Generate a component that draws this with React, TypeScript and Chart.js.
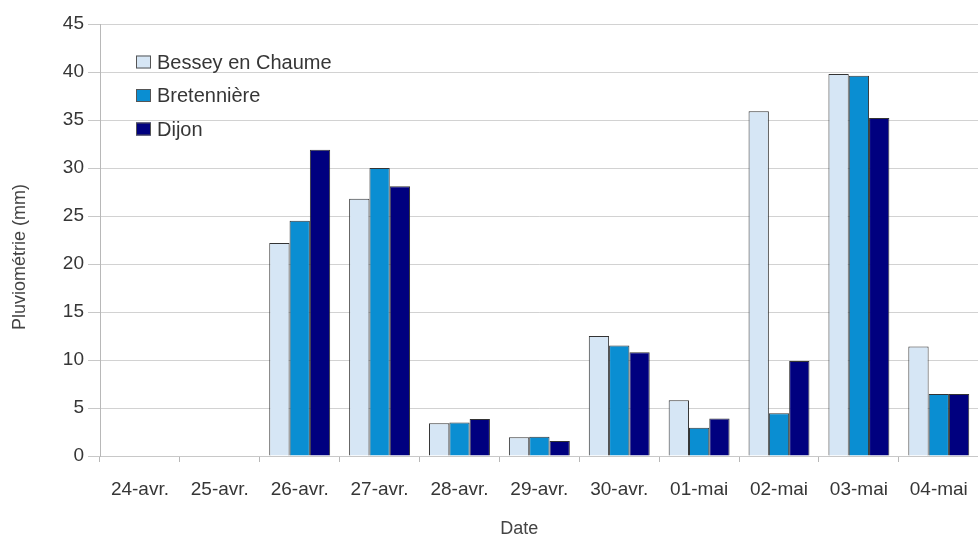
import React, { useEffect, useRef } from "react";
import { Chart, registerables } from "chart.js";

Chart.register(...registerables);

// Daily rainfall, 24 April – 4 May
const dates = ["24-avr.", "25-avr.", "26-avr.", "27-avr.", "28-avr.", "29-avr.", "30-avr.", "01-mai", "02-mai", "03-mai", "04-mai"];
const besseyEnChaume = [null, null, 22.2, 26.8, 3.4, 1.95, 12.5, 5.8, 35.9, 39.8, 11.4];
const bretenniere = [null, null, 24.5, 30.0, 3.5, 2.0, 11.5, 2.95, 4.45, 39.6, 6.45];
const dijon = [null, null, 31.9, 28.1, 3.85, 1.55, 10.8, 3.9, 9.9, 35.2, 6.45];
const yTicks = [0, 5, 10, 15, 20, 25, 30, 35, 40, 45];

const seriesNames = ["Bessey en Chaume", "Bretennière", "Dijon"];
const seriesColors = ["#d6e6f5", "#0a8ed2", "#00007f"];

const FONT = "'Liberation Sans', Arial, sans-serif";
const TEXT = "#363636";

// Legend drawn inside the plot area, top-left
const innerLegend = {
  id: "innerLegend",
  afterDraw(chart: any) {
    const { ctx, chartArea } = chart;
    ctx.save();
    ctx.font = `20px ${FONT}`;
    ctx.textBaseline = "middle";
    ctx.textAlign = "left";
    chart.data.datasets.forEach((ds: any, i: number) => {
      const x = chartArea.left + 36;
      const y = chartArea.top + 38 + i * 33.5;
      ctx.fillStyle = ds.backgroundColor;
      ctx.fillRect(x, y - 6.5, 15, 13);
      ctx.strokeStyle = "#555";
      ctx.lineWidth = 1;
      ctx.strokeRect(x + 0.5, y - 6, 14, 12);
      ctx.fillStyle = TEXT;
      ctx.fillText(ds.label, x + 21, y + 1);
    });
    ctx.restore();
  },
};

// Axis titles
const axisTitles = {
  id: "axisTitles",
  afterDraw(chart: any) {
    const { ctx, chartArea } = chart;
    ctx.save();
    ctx.fillStyle = "#444";
    ctx.font = `18px ${FONT}`;
    ctx.textAlign = "center";
    ctx.textBaseline = "middle";
    ctx.fillText("Date", chartArea.left + (chartArea.right - chartArea.left) * 0.477, chart.height - 10);
    ctx.translate(20, (chartArea.top + chartArea.bottom) / 2 + 17);
    ctx.rotate(-Math.PI / 2);
    ctx.fillText("Pluviométrie (mm)", 0, 0);
    ctx.restore();
  },
};

export default function App() {
  const ref = useRef<HTMLCanvasElement>(null);

  useEffect(() => {
    document.body.style.margin = "0";
    const canvas = ref.current;
    if (!canvas) return;
    const data = [besseyEnChaume, bretenniere, dijon];
    const chart = new Chart(canvas, {
      type: "bar",
      data: {
        labels: dates,
        datasets: data.map((values, i) => ({
          label: seriesNames[i],
          data: values as any,
          backgroundColor: seriesColors[i],
          borderColor: "#333",
          borderWidth: 1,
          categoryPercentage: 0.7625,
          barPercentage: 1,
        })),
      },
      options: {
        animation: false,
        responsive: false,
        devicePixelRatio: 1,
        layout: { padding: { top: 24, right: 4, left: 0, bottom: 0 } },
        plugins: {
          legend: { display: false },
          tooltip: { enabled: false },
        },
        scales: {
          x: {
            grid: {
              offset: true,
              drawOnChartArea: false,
              drawTicks: true,
              tickLength: 6,
              color: "#b8b8b8",
            },
            border: { display: true, color: "#c8c8c8" },
            ticks: {
              color: TEXT,
              font: { family: FONT, size: 19 },
              padding: 16,
              maxRotation: 0,
              autoSkip: false,
            },
            afterFit: (scale: any) => {
              scale.height = 83;
            },
          },
          y: {
            min: 0,
            max: 45,
            afterBuildTicks: (scale: any) => {
              scale.ticks = yTicks.map((v) => ({ value: v }));
            },
            grid: {
              color: "#d2d2d2",
              tickLength: 12,
              tickColor: "#c8c8c8",
            },
            border: { display: true, color: "#b8b8b8" },
            ticks: {
              color: TEXT,
              font: { family: FONT, size: 19 },
              padding: 4,
            },
            afterFit: (scale: any) => {
              scale.width = 100;
            },
          },
        },
      },
      plugins: [innerLegend, axisTitles],
    });
    return () => chart.destroy();
  }, []);

  return (
    <div style={{ position: "fixed", left: 0, top: 0, width: 978, height: 539, overflow: "hidden", background: "#fff" }}>
      <canvas ref={ref} width={984} height={539} style={{ display: "block" }} />
    </div>
  );
}
